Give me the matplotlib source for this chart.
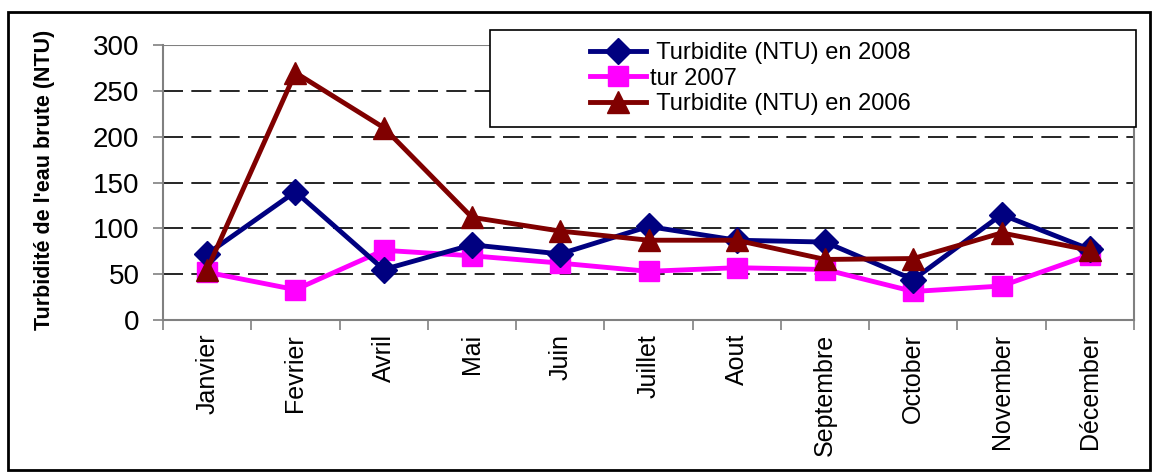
import matplotlib
matplotlib.use("Agg")
import matplotlib.pyplot as plt
from matplotlib.patches import Rectangle

plt.rcParams['font.family'] = ['Liberation Sans', 'DejaVu Sans']

months = ["Janvier", "Fevrier", "Avril", "Mai", "Juin", "Juillet", "Aout",
          "Septembre", "October", "November", "Décember"]
turb_2008 = [72, 140, 55, 82, 72, 102, 87, 85, 44, 115, 77]
turb_2007 = [52, 33, 76, 70, 62, 53, 57, 55, 31, 37, 71]
turb_2006 = [55, 270, 210, 112, 97, 87, 87, 66, 67, 95, 76]
labels = [" Turbidite (NTU) en 2008", "tur 2007", " Turbidite (NTU) en 2006"]
yticks = [0, 50, 100, 150, 200, 250, 300]

fig = plt.figure(figsize=(11.56, 4.76), dpi=100)
ax = fig.add_axes([0.141, 0.328, 0.840, 0.577])

x = list(range(len(months)))
l1, = ax.plot(x, turb_2008, color="#000080", lw=3.5, marker="D", ms=13,
              zorder=4, clip_on=False)
l2, = ax.plot(x, turb_2007, color="#FF00FF", lw=3.5, marker="s", ms=15,
              zorder=3, clip_on=False)
l3, = ax.plot(x, turb_2006, color="#800000", lw=3.5, marker="^", ms=16,
              zorder=5, clip_on=False)

ax.set_xlim(-0.5, len(months) - 0.5)
ax.set_ylim(0, 300)
ax.set_yticks(yticks)
ax.set_yticklabels([str(v) for v in yticks], fontsize=20)
ax.set_xticks([i - 0.5 for i in range(len(months) + 1)])
ax.set_xticklabels([])
ax.set_xticks(x, minor=True)
ax.set_xticklabels(months, minor=True, rotation=90, fontsize=18)
ax.tick_params(axis="x", which="minor", length=0, pad=10)
ax.tick_params(axis="x", which="major", length=7, width=1.2, color="#808080",
               direction="out")
ax.tick_params(axis="y", length=7, width=1.2, color="#808080", direction="out",
               pad=10)

for v in yticks[1:-1]:
    ax.axhline(v, color="black", lw=1.2, ls=(0, (12, 5)), zorder=1)
ax.axhline(300, color="#808080", lw=1.5, zorder=1)

ax.spines["top"].set_visible(False)
for side in ("left", "bottom", "right"):
    ax.spines[side].set_color("#808080")
    ax.spines[side].set_linewidth(1.5)

fig.text(45 / 1156, 0.622, "Turbidité de l'eau brute (NTU)", rotation=90,
         ha="center", va="center", fontsize=15.5, fontweight="bold")

# legend box
box = Rectangle((490 / 1156, 1 - 127 / 476), (1136 - 490) / 1156, (127 - 30) / 476,
                transform=fig.transFigure, facecolor="white", edgecolor="black",
                lw=1.2, zorder=10, clip_on=False)
ax.add_artist(box)
leg = ax.legend([l1, l2, l3], labels, loc="center left",
                bbox_to_anchor=(578 / 1156, 1 - 78.5 / 476),
                bbox_transform=fig.transFigure, frameon=False, fontsize=17,
                handlelength=2.4, handletextpad=0.15, labelspacing=0.15,
                borderpad=0)
leg.set_zorder(11)

# outer frame
fig.add_artist(Rectangle((8 / 1156, 1 - 470 / 476), (1150 - 8) / 1156, (470 - 12) / 476,
                         transform=fig.transFigure, facecolor="none",
                         edgecolor="black", lw=2))

fig.savefig("out.png", dpi=100)
